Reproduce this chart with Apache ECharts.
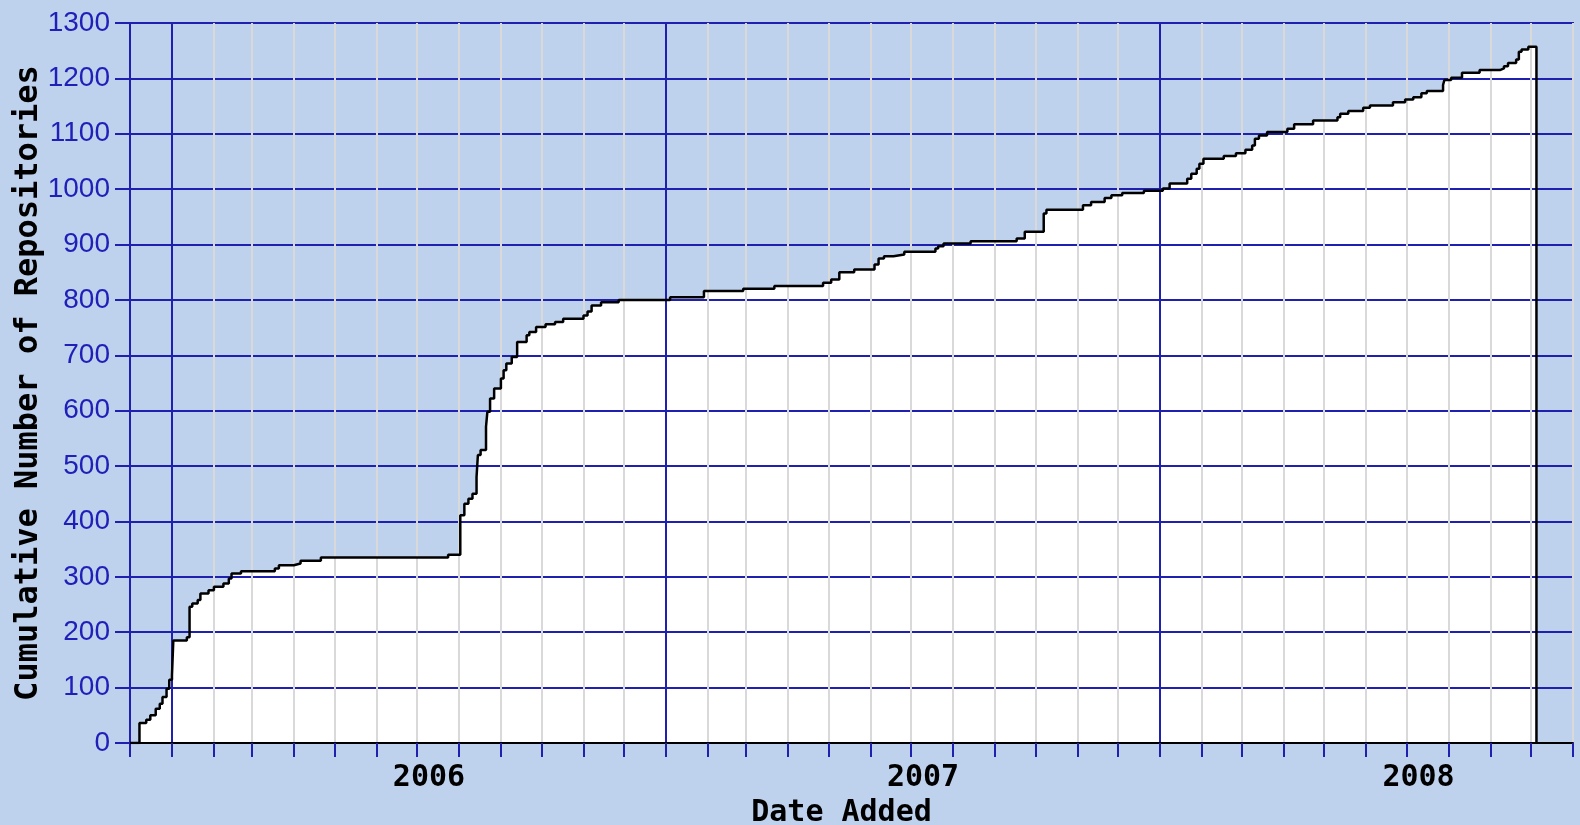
<!DOCTYPE html>
<html>
<head>
<meta charset="utf-8">
<title>Cumulative Number of Repositories</title>
<script src="https://cdn.jsdelivr.net/npm/echarts@6/dist/echarts.min.js"></script>
<style>
html, body { margin: 0; padding: 0; background: #bed2ee; }
#chart { width: 1580px; height: 825px; }
</style>
</head>
<body>
<div id="chart"></div>
<script>
// cumulative repository count (date the step happens, count after it)
var dates = [
    '2005-12-01', '2005-12-08', '2005-12-13', '2005-12-16', '2005-12-20', '2005-12-23', '2005-12-25',
    '2005-12-28', '2005-12-30', '2006-01-01', '2006-01-02', '2006-01-12', '2006-01-14', '2006-01-16',
    '2006-01-20', '2006-01-22', '2006-01-28', '2006-02-01', '2006-02-08', '2006-02-12', '2006-02-14',
    '2006-02-21', '2006-03-18', '2006-03-21', '2006-04-01', '2006-04-06', '2006-04-21', '2006-07-24',
    '2006-08-02', '2006-08-05', '2006-08-08', '2006-08-11', '2006-08-14', '2006-08-15', '2006-08-17',
    '2006-08-21', '2006-08-22', '2006-08-24', '2006-08-27', '2006-09-01', '2006-09-03', '2006-09-05',
    '2006-09-09', '2006-09-13', '2006-09-20', '2006-09-22', '2006-09-27', '2006-10-04', '2006-10-11',
    '2006-10-17', '2006-11-01', '2006-11-04', '2006-11-07', '2006-11-14', '2006-11-27', '2007-01-04',
    '2007-01-29', '2007-02-27', '2007-03-22', '2007-04-27', '2007-05-03', '2007-05-09', '2007-05-20',
    '2007-06-04', '2007-06-07', '2007-06-11', '2007-06-18', '2007-06-26', '2007-07-19', '2007-07-21',
    '2007-07-25', '2007-08-14', '2007-09-17', '2007-09-23', '2007-10-07', '2007-10-09', '2007-11-05',
    '2007-11-11', '2007-11-21', '2007-11-26', '2007-12-04', '2007-12-20', '2008-01-03', '2008-01-08',
    '2008-01-21', '2008-01-24', '2008-01-28', '2008-01-30', '2008-02-02', '2008-02-17', '2008-02-26',
    '2008-03-04', '2008-03-09', '2008-03-11', '2008-03-14', '2008-03-20', '2008-04-04', '2008-04-09',
    '2008-04-23', '2008-05-11', '2008-05-13', '2008-05-19', '2008-05-30', '2008-06-04', '2008-06-21',
    '2008-06-30', '2008-07-06', '2008-07-12', '2008-07-16', '2008-07-28', '2008-07-29', '2008-08-03',
    '2008-08-11', '2008-08-24', '2008-09-08', '2008-09-11', '2008-09-14', '2008-09-20', '2008-09-22',
    '2008-09-24', '2008-09-29', '2008-10-05'
];
var counts = [
    0, 36, 42, 50, 62, 71, 83,
    98, 114, 122, 185, 191, 246, 252,
    258, 270, 276, 282, 288, 297, 306,
    310, 315, 321, 324, 329, 335, 340,
    411, 432, 441, 450, 480, 520, 529,
    571, 598, 622, 640, 658, 673, 685,
    697, 724, 736, 742, 751, 756, 760,
    766, 772, 779, 790, 796, 800, 805,
    816, 820, 825, 831, 837, 850, 855,
    864, 875, 879, 882, 887, 893, 897,
    902, 906, 911, 923, 956, 963, 971,
    977, 984, 989, 993, 997, 1001, 1010,
    1019, 1028, 1037, 1046, 1055, 1060, 1065,
    1071, 1079, 1091, 1097, 1103, 1109, 1117,
    1124, 1130, 1136, 1141, 1147, 1151, 1157,
    1162, 1166, 1173, 1177, 1188, 1197, 1201,
    1210, 1215, 1218, 1222, 1228, 1234, 1248,
    1252, 1257, 1257
];
var yearStarts = ['2006-01-01', '2007-01-01', '2008-01-01'];
var xMin = '2005-12-01';
var xMax = '2008-11-01';

var BLUE = '#2020b0';
var DAY = 24 * 3600 * 1000;

var dom = document.getElementById("chart");
var myChart = echarts.init(dom);

var stepData = dates.map(function (d, i) { return [d, counts[i]]; });
// close the outline back down to the axis after the last point
var lineData = stepData.concat([[dates[dates.length - 1], 0]]);

option = {
    backgroundColor: '#bed2ee',
    animation: false,
    grid: {
        left: 130,
        right: 7,
        top: 23,
        bottom: 82,
        outerBoundsMode: 'none',
        containLabel: false,
        show: true,
        borderColor: BLUE,
        borderWidth: 2
    },
    xAxis: {
        type: 'time',
        min: xMin,
        max: xMax,
        minInterval: 28 * DAY,
        maxInterval: 30 * DAY,
        z: 5,
        name: 'Date Added',
        nameLocation: 'middle',
        nameGap: 54,
        nameTextStyle: {
            fontFamily: 'DejaVu Sans Mono',
            fontWeight: 'bold',
            fontSize: 30,
            color: '#000',
            padding: [0, 20, 0, 0]
        },
        axisLine: { lineStyle: { color: '#000', width: 2 } },
        axisTick: { show: true, length: 14, lineStyle: { color: BLUE, width: 2 } },
        splitLine: { show: true, lineStyle: { color: '#d9d9d9', width: 2 } },
        axisLabel: {
            margin: 20,
            fontFamily: 'DejaVu Sans Mono',
            fontWeight: 'bold',
            fontSize: 30,
            color: '#000',
            padding: [0, 0, 0, 24],
            formatter: function (value) {
                var d = new Date(value);
                return (d.getMonth() === 6 && d.getDate() === 1) ? String(d.getFullYear()) : '';
            }
        }
    },
    yAxis: {
        type: 'value',
        min: 0,
        max: 1300,
        interval: 100,
        z: 5,
        name: 'Cumulative Number of Repositories',
        nameLocation: 'middle',
        nameGap: 85,
        nameMoveOverlap: false,
        nameTextStyle: {
            fontFamily: 'DejaVu Sans Mono',
            fontWeight: 'bold',
            fontSize: 32,
            color: '#000'
        },
        axisLine: { show: true, lineStyle: { color: BLUE, width: 2 } },
        axisTick: { show: true, length: 15, lineStyle: { color: BLUE, width: 2 } },
        splitLine: { show: true, lineStyle: { color: BLUE, width: 2 } },
        axisLabel: {
            margin: 20,
            fontFamily: 'Liberation Sans',
            fontSize: 28,
            color: '#2020b8',
            formatter: function (value) { return String(value); }
        }
    },
    series: [
        {
            name: 'fill',
            type: 'line',
            step: 'end',
            data: lineData,
            symbol: 'none',
            lineStyle: { width: 0 },
            areaStyle: { color: '#ffffff', opacity: 1 },
            z: 1
        },
        {
            name: 'repositories',
            type: 'line',
            step: 'end',
            data: lineData,
            symbol: 'none',
            lineStyle: { color: '#000', width: 2.5 },
            z: 8,
            markLine: {
                silent: true,
                symbol: 'none',
                label: { show: false },
                lineStyle: { color: BLUE, width: 2, type: 'solid' },
                data: yearStarts.map(function (d) { return { xAxis: d }; })
            }
        }
    ]
};
if (option && typeof option === "object") {
    myChart.setOption(option, true);
}
</script>
</body>
</html>
